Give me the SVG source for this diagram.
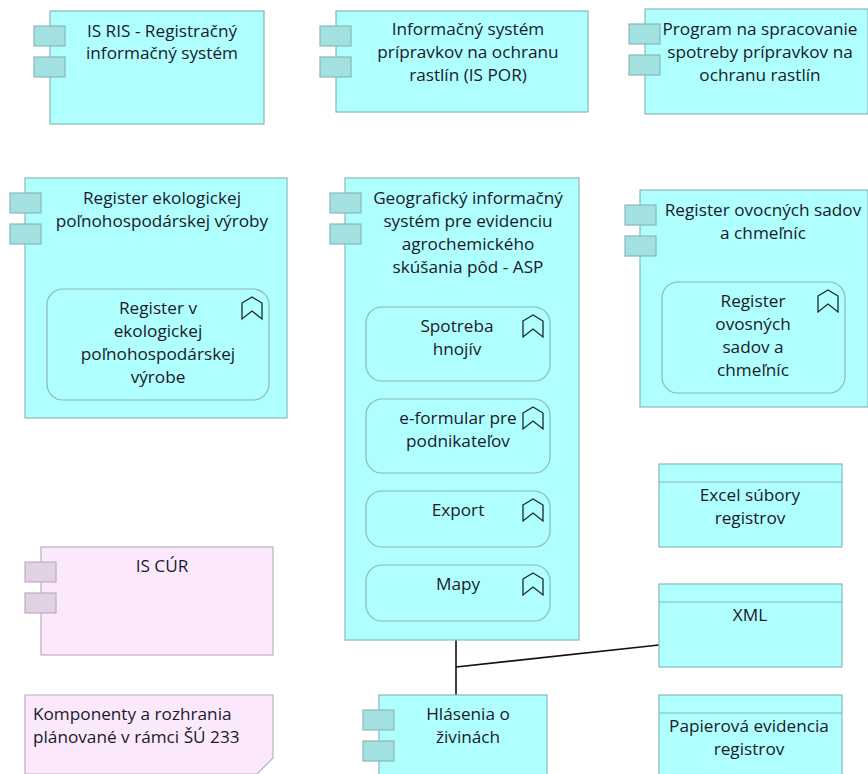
<svg xmlns="http://www.w3.org/2000/svg" width="868" height="774" viewBox="0 0 868 774">
<style>
.n{fill:#b0ffff;stroke:#8ab8b8;stroke-width:1.2}
.t{fill:#a3e0e0;stroke:#8ab8b8;stroke-width:1.2}
.p{fill:#fbe8fc;stroke:#bfaec2;stroke-width:1.2}
.q{fill:#e2d0e3;stroke:#bfaec2;stroke-width:1.2}
.r{fill:#b0ffff;stroke:#8ab8b8;stroke-width:1.2}
.i{fill:none;stroke:#1a2a2a;stroke-width:1.3}
.h{fill:none;stroke:#8ab8b8;stroke-width:1.2}
.c{fill:none;stroke:#111;stroke-width:1.6}
text{font-family:"Open Sans","Noto Sans","Liberation Sans",sans-serif;font-size:17.2px;fill:#1a1a2a;text-anchor:middle}
.l{text-anchor:start}
</style>
<g id="connectors">
<path class="c" d="M456 640V695"/>
<path class="c" d="M456 667L659 645"/>
</g>
<g id="n1"><rect class="n" x="50" y="11" width="214" height="113"/><rect class="t" x="34" y="26" width="31" height="20"/><rect class="t" x="34" y="57" width="31" height="20"/><text x="162" y="37">IS RIS - Registračný</text><text x="162" y="59">informačný systém</text></g>
<g id="n2"><rect class="n" x="336" y="11" width="252" height="101"/><rect class="t" x="320" y="26" width="31" height="20"/><rect class="t" x="320" y="57" width="31" height="20"/><text x="468" y="35">Informačný systém</text><text x="468" y="58">prípravkov na ochranu</text><text x="468" y="81">rastlín (IS POR)</text></g>
<g id="n3"><rect class="n" x="645" y="9" width="223" height="105"/><rect class="t" x="629" y="24" width="31" height="20"/><rect class="t" x="629" y="55" width="31" height="20"/><text x="760" y="35">Program na spracovanie</text><text x="760" y="58">spotreby prípravkov na</text><text x="760" y="81">ochranu rastlín</text></g>
<g id="n4"><rect class="n" x="25" y="178" width="262" height="240"/><rect class="t" x="10" y="193" width="31" height="20"/><rect class="t" x="10" y="224" width="31" height="20"/><text x="162" y="204">Register ekologickej</text><text x="162" y="227">poľnohospodárskej výroby</text>
<g id="n4a"><rect class="r" x="47" y="289" width="222" height="111" rx="16"/><path class="i" d="M242 303L252 297L262 303V319L252 311L242 319Z"/><text x="158" y="314">Register v</text><text x="158" y="337">ekologickej</text><text x="158" y="360">poľnohospodárskej</text><text x="158" y="383">výrobe</text></g></g>
<g id="n5"><rect class="n" x="345" y="178" width="234" height="462"/><rect class="t" x="330" y="193" width="31" height="20"/><rect class="t" x="330" y="224" width="31" height="20"/><text x="468" y="204">Geografický informačný</text><text x="468" y="227">systém pre evidenciu</text><text x="468" y="250">agrochemického</text><text x="468" y="273">skúšania pôd - ASP</text>
<g id="n5a"><rect class="r" x="366" y="307" width="184" height="74" rx="16"/><path class="i" d="M523 321L533 315L543 321V337L533 329L523 337Z"/><text x="457" y="332">Spotreba</text><text x="457" y="355">hnojív</text></g>
<g id="n5b"><rect class="r" x="366" y="399" width="184" height="74" rx="16"/><path class="i" d="M523 413L533 407L543 413V429L533 421L523 429Z"/><text x="458" y="424">e-formular pre</text><text x="458" y="447">podnikateľov</text></g>
<g id="n5c"><rect class="r" x="366" y="491" width="184" height="56" rx="16"/><path class="i" d="M523 505L533 499L543 505V521L533 513L523 521Z"/><text x="458" y="516">Export</text></g>
<g id="n5d"><rect class="r" x="366" y="565" width="184" height="56" rx="16"/><path class="i" d="M523 579L533 573L543 579V595L533 587L523 595Z"/><text x="458" y="590">Mapy</text></g></g>
<g id="n6"><rect class="n" x="640" y="190" width="228" height="217"/><rect class="t" x="625" y="205" width="31" height="20"/><rect class="t" x="625" y="236" width="31" height="20"/><text x="763" y="216">Register ovocných sadov</text><text x="763" y="239">a chmeľníc</text>
<g id="n6a"><rect class="r" x="662" y="282" width="183" height="111" rx="16"/><path class="i" d="M818 296L828 290L838 296V312L828 304L818 312Z"/><text x="753" y="307">Register</text><text x="753" y="330">ovosných</text><text x="753" y="353">sadov a</text><text x="753" y="376">chmeľníc</text></g></g>
<g id="n7"><rect class="n" x="659" y="464" width="183" height="83"/><path class="h" d="M659 482H842"/><text x="750" y="501">Excel súbory</text><text x="750" y="524">registrov</text></g>
<g id="n8"><rect class="n" x="659" y="584" width="183" height="83"/><path class="h" d="M659 602H842"/><text x="750" y="621">XML</text></g>
<g id="n9"><rect class="n" x="659" y="695" width="183" height="90"/><path class="h" d="M659 713H842"/><text x="749" y="732">Papierová evidencia</text><text x="749" y="755">registrov</text></g>
<g id="n10"><rect class="p" x="41" y="547" width="232" height="108"/><rect class="q" x="25" y="562" width="31" height="20"/><rect class="q" x="25" y="593" width="31" height="20"/><text x="162" y="572">IS CÚR</text></g>
<g id="n11"><path class="p" d="M25 695H273V758L257 774H25Z"/><text class="l" x="33" y="720">Komponenty a rozhrania</text><text class="l" x="33" y="743">plánované v rámci ŠÚ 233</text></g>
<g id="n12"><rect class="n" x="379" y="695" width="168" height="90"/><rect class="t" x="363" y="710" width="31" height="20"/><rect class="t" x="363" y="741" width="31" height="20"/><text x="468" y="720">Hlásenia o</text><text x="468" y="743">živinách</text></g>
</svg>
